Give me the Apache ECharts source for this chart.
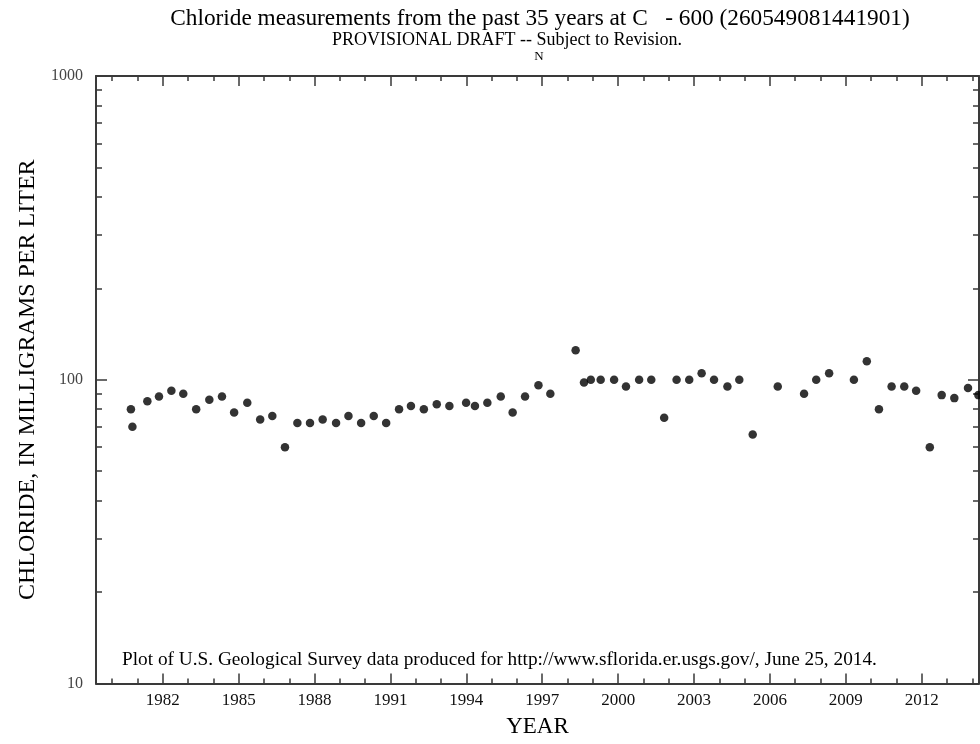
<!DOCTYPE html>
<html><head><meta charset="utf-8">
<script src="https://cdn.jsdelivr.net/npm/echarts@6/dist/echarts.min.js"></script>
<style>html,body{margin:0;padding:0;background:#fff}#c{width:980px;height:744px}</style>
</head><body><div id="c"></div><script>
const years = [1980.74,1980.80,1981.39,1981.85,1982.34,1982.81,1983.32,1983.84,1984.34,1984.82,
  1985.34,1985.85,1986.33,1986.83,1987.32,1987.82,1988.32,1988.85,1989.34,1989.84,
  1990.34,1990.83,1991.34,1991.81,1992.32,1992.83,1993.33,1993.99,1994.34,1994.83,
  1995.36,1995.83,1996.32,1996.85,1997.32,1998.32,1998.65,1998.92,1999.31,1999.84,
  2000.31,2000.83,2001.31,2001.82,2002.31,2002.81,2003.30,2003.79,2004.32,2004.79,
  2005.32,2006.31,2007.35,2007.83,2008.34,2009.32,2009.83,2010.31,2010.81,2011.31,
  2011.78,2012.32,2012.79,2013.29,2013.83,2014.24];
const chloride = [80,70,85,88,92,90,80,86,88,78,
  84,74,76,60,72,72,74,72,76,72,
  76,72,80,82,80,83,82,84,82,84,
  88,78,88,96,90,125,98,100,100,100,
  95,100,100,75,100,100,105,100,95,100,
  66,95,90,100,105,100,115,80,95,95,
  92,60,89,87,94,89];
const majorYears = [1982,1985,1988,1991,1994,1997,2000,2003,2006,2009,2012];
const minorYears = [1980,1981,1983,1984,1986,1987,1989,1990,1992,1993,1995,1996,1998,1999,2001,2002,2004,2005,2007,2008,2010,2011,2013,2014];
const yMajor = [10,100,1000];
const yMinor = [20,30,40,50,60,70,80,90,200,300,400,500,600,700,800,900];

const SERIF = "'Liberation Serif','Times New Roman',serif";
const LINE = {show:true, lineStyle:{color:'#3a3a3a', width:2}};
const XMIN = 1979.36, XMAX = 2014.265;

function xAx(pos, ticks, len, withLine, withLabel) {
  return {
    type:'value', position:pos, min:XMIN, max:XMAX,
    axisLine: withLine ? LINE : {show:false},
    axisTick:{show:true, inside:true, length:len, customValues:ticks, lineStyle:{color:'#3a3a3a', width:1.5}},
    axisLabel: withLabel ? {show:true, customValues:ticks, margin:9, color:'#111', fontFamily:SERIF, fontSize:17, formatter:v=>String(v)} : {show:false},
    splitLine:{show:false}
  };
}
function yAx(pos, ticks, len, withLine, withLabel) {
  return {
    type:'log', logBase:10, position:pos, min:10, max:1000,
    axisLine: withLine ? LINE : {show:false},
    axisTick:{show:true, inside:true, length:len, customValues:ticks, lineStyle:{color:'#3a3a3a', width:1.5}},
    axisLabel: withLabel ? {show:true, customValues:ticks, margin:13, color:'#444', fontFamily:SERIF, fontSize:16, formatter:v=>String(Math.round(v))} : {show:false},
    splitLine:{show:false}
  };
}

const xAxes = [
  Object.assign(xAx('bottom', majorYears, 10, true, true), {name:'YEAR', nameLocation:'middle', nameGap:32, nameTextStyle:{fontFamily:SERIF, fontSize:23, color:'#000'}}),
  xAx('bottom', minorYears, 5, false, false),
  xAx('top', majorYears, 10, true, false),
  xAx('top', minorYears, 5, false, false)
];
const yAxes = [
  Object.assign(yAx('left', yMajor, 11, true, true), {name:'CHLORIDE, IN MILLIGRAMS PER LITER', nameLocation:'middle', nameGap:56, nameRotate:90, nameTextStyle:{fontFamily:SERIF, fontSize:24, color:'#000'}}),
  yAx('left', yMinor, 6, false, false),
  yAx('right', yMajor, 11, true, false),
  yAx('right', yMinor, 6, false, false)
];

const chart = echarts.init(document.getElementById('c'), null, {renderer:'canvas'});
chart.setOption({
  animation:false,
  backgroundColor:'#fff',
  grid:{left:96, top:76, right:1, bottom:60.5, containLabel:false},
  xAxis:xAxes,
  yAxis:yAxes,
  graphic:[
    {type:'text', x:540, y:19, style:{text:'Chloride measurements from the past 35 years at C   - 600 (260549081441901)', font:'23.3px '+SERIF, fill:'#000', textAlign:'center', textVerticalAlign:'middle'}},
    {type:'text', x:507, y:40, style:{text:'PROVISIONAL DRAFT -- Subject to Revision.', font:'18px '+SERIF, fill:'#000', textAlign:'center', textVerticalAlign:'middle'}},
    {type:'text', x:539, y:57, style:{text:'N', font:'13px '+SERIF, fill:'#000', textAlign:'center', textVerticalAlign:'middle'}},
    {type:'text', x:122, y:660, style:{text:'Plot of U.S. Geological Survey data produced for http://www.sflorida.er.usgs.gov/, June 25, 2014.', font:'19.3px '+SERIF, fill:'#000', textAlign:'left', textVerticalAlign:'middle'}}
  ],
  series:[{
    type:'scatter', xAxisIndex:0, yAxisIndex:0, clip:false,
    symbol:'circle', symbolSize:8.5,
    itemStyle:{color:'#000'},
    data: years.map((y,i)=>[y, chloride[i]])
  }]
});
</script></body></html>
